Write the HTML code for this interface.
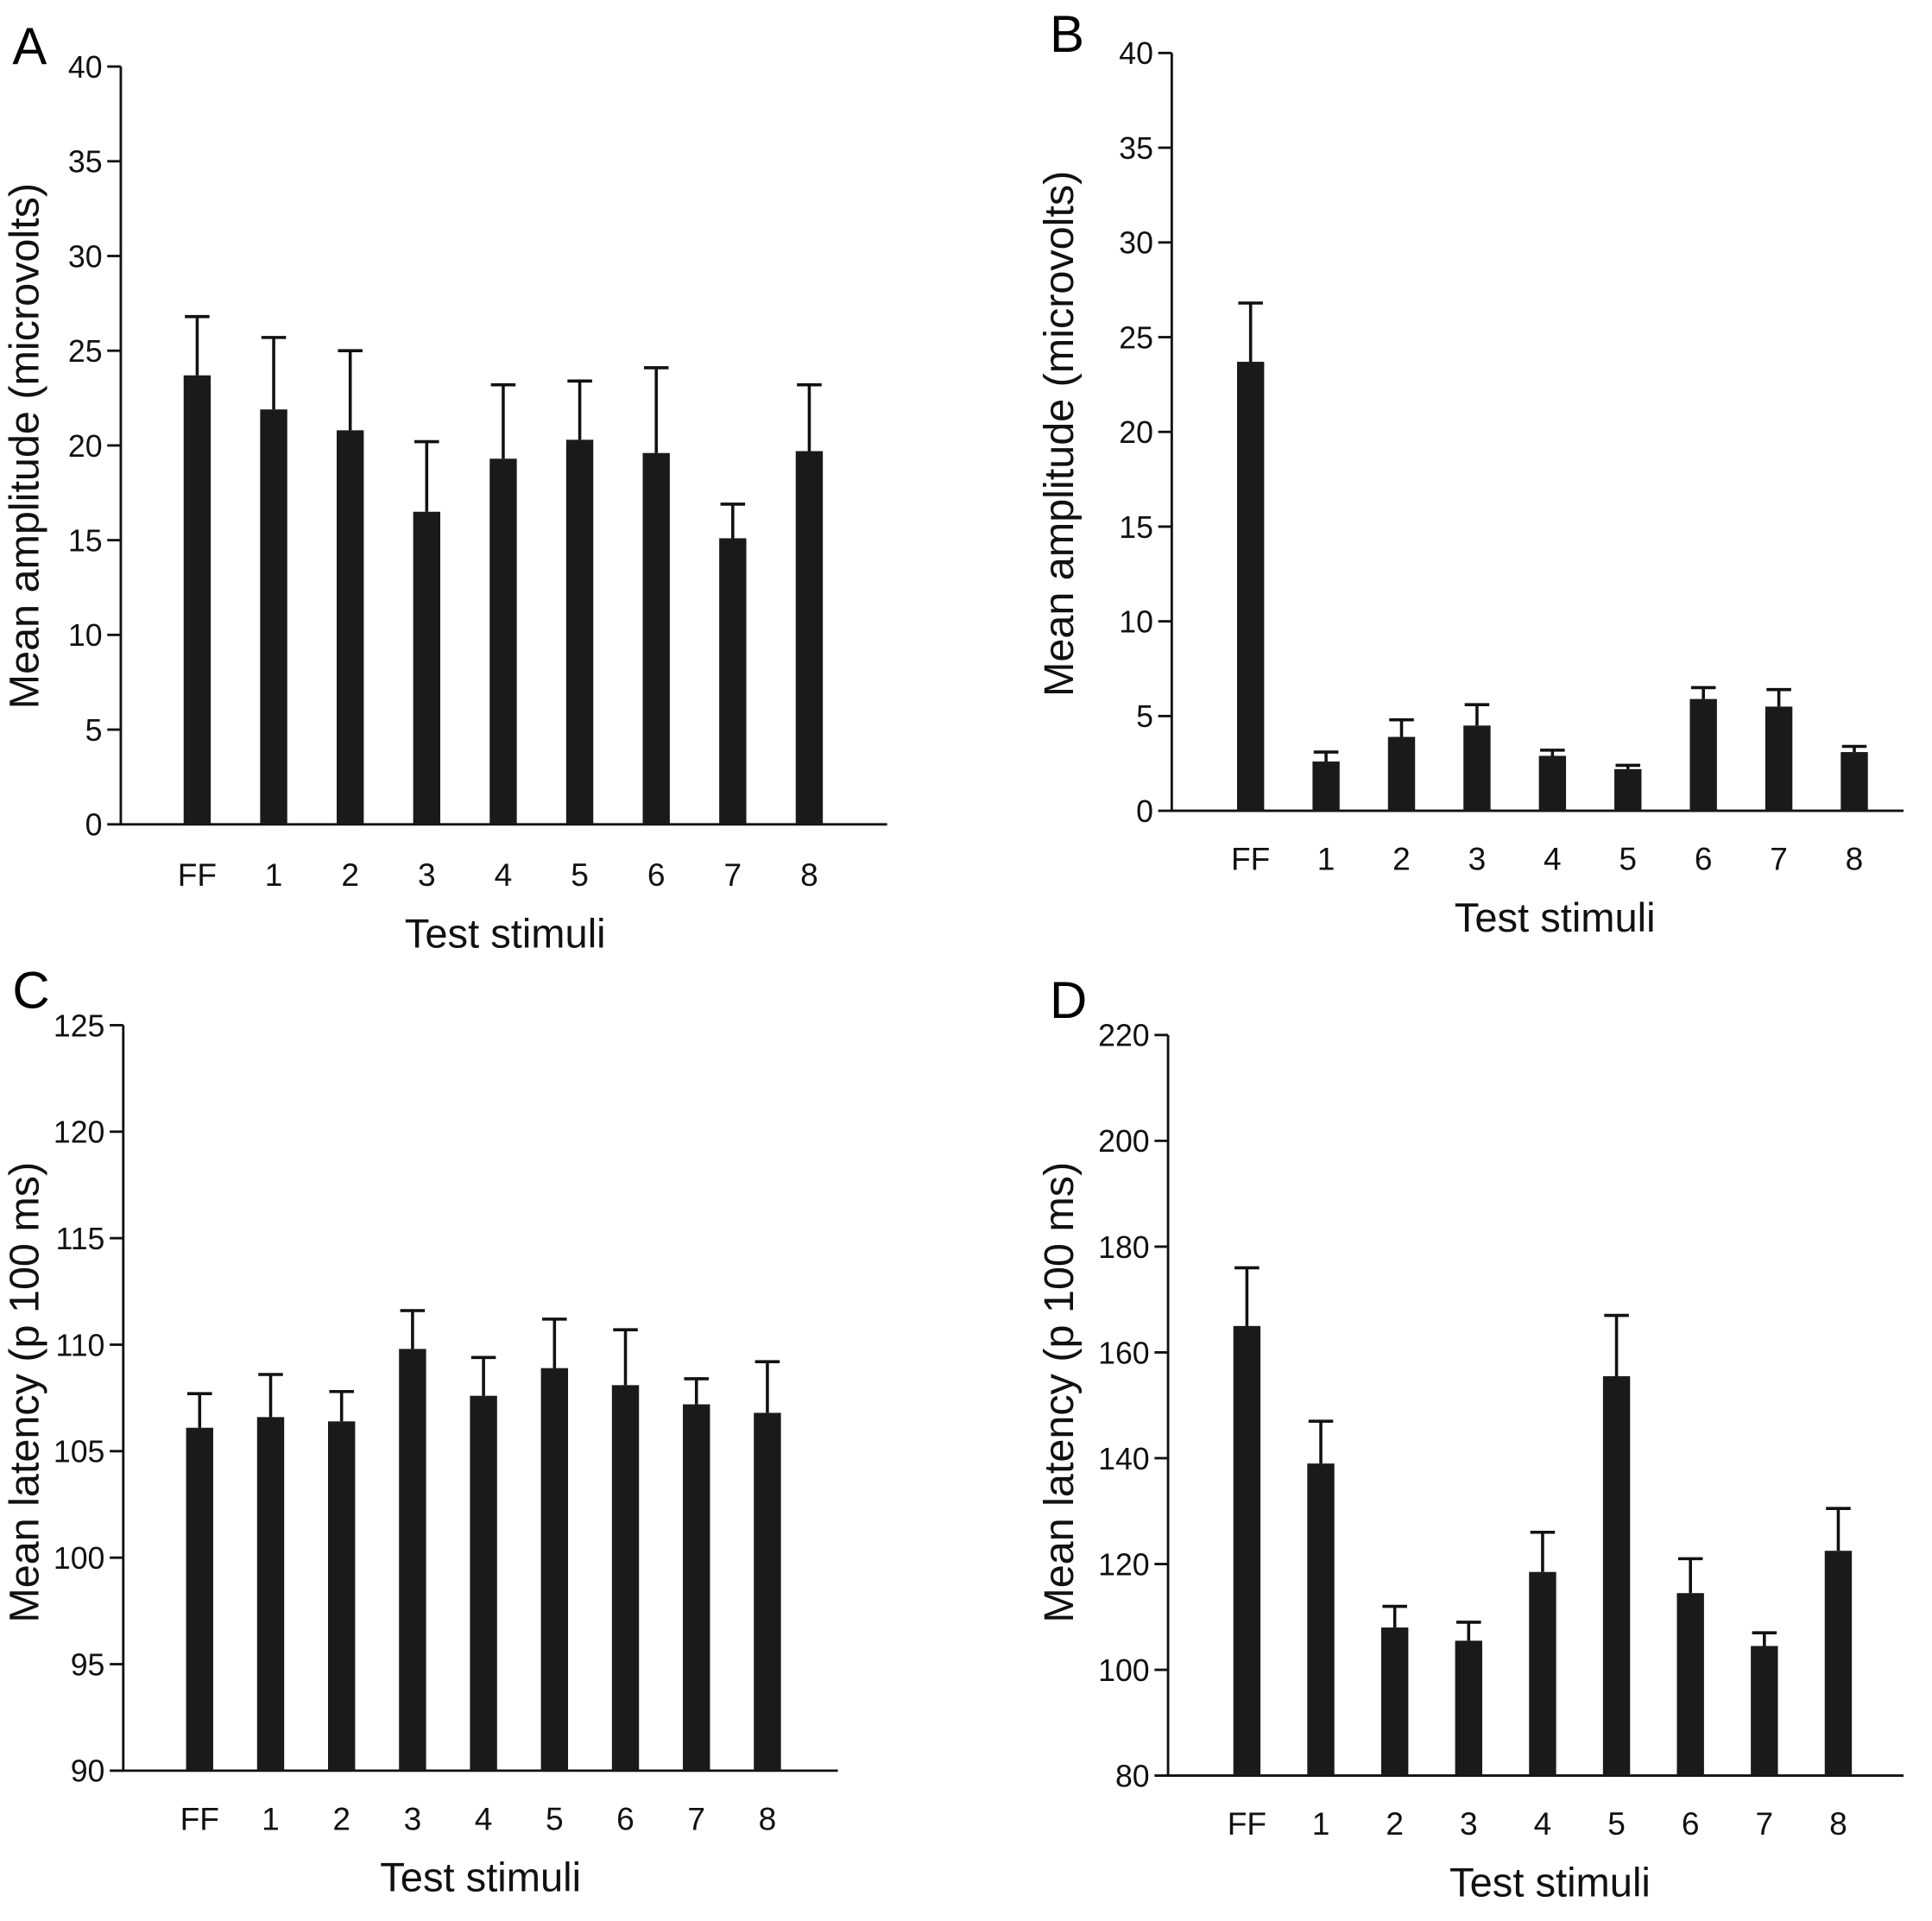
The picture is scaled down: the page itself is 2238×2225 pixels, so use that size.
<!DOCTYPE html>
<html><head><meta charset="utf-8"><style>html,body{margin:0;padding:0;background:#fff}svg{display:block}</style></head>
<body>
<svg id="fig" width="2238" height="2225" viewBox="0 0 1568 1559" xmlns="http://www.w3.org/2000/svg" font-family="Liberation Sans, sans-serif">
<text x="10" y="52" font-size="42">A</text>
<text x="852" y="42" font-size="42">B</text>
<text x="10" y="818" font-size="42">C</text>
<text x="852" y="826" font-size="42">D</text>
</svg>
<script>
const categories=["FF","1","2","3","4","5","6","7","8"];
const meanA=[23.7,21.9,20.8,16.5,19.3,20.3,19.6,15.1,19.7];
const errA=[26.8,25.7,25.0,20.2,23.2,23.4,24.1,16.9,23.2];
const ticksA=[0,5,10,15,20,25,30,35,40];
const meanB=[23.7,2.6,3.9,4.5,2.9,2.2,5.9,5.5,3.1];
const errB=[26.8,3.1,4.8,5.6,3.2,2.4,6.5,6.4,3.4];
const ticksB=[0,5,10,15,20,25,30,35,40];
const meanC=[106.1,106.6,106.4,109.8,107.6,108.9,108.1,107.2,106.8];
const errC=[107.7,108.6,107.8,111.6,109.4,111.2,110.7,108.4,109.2];
const ticksC=[90,95,100,105,110,115,120,125];
const meanD=[165,139,108,105.5,118.5,155.5,114.5,104.5,122.5];
const errD=[176,147,112,109,126,167,121,107,130.5];
const ticksD=[80,100,120,140,160,180,200,220];
const NS="http://www.w3.org/2000/svg";
const svg=document.getElementById('fig');
function mk(tag,attrs,parent){const e=document.createElementNS(NS,tag);for(const k in attrs)e.setAttribute(k,attrs[k]);(parent||svg).appendChild(e);return e;}
function panel(id,cfg,means,errs,ticks,ylabel){
 const g=mk('g',{});
 
 
 const y=v=>cfg.y0+(v-cfg.vmin)/(cfg.vmax-cfg.vmin)*(cfg.y1-cfg.y0);
 const x0=cfg.x0, x1=cfg.xr;
 const ax=mk('path',{d:`M${x0},${y(cfg.vmax)}V${cfg.y0}H${x1}`,stroke:'#111','stroke-width':2,fill:'none'},g);
 
 
 ticks.forEach(t=>{
  const tk=mk('line',{x1:x0-11,x2:x0,y1:y(t),y2:y(t),stroke:'#111','stroke-width':2},g);
  
  
  const tl=mk('text',{x:x0-15,y:y(t)+9,'font-size':25,'text-anchor':'end',fill:'#111'},g);
  
  
  tl.textContent=t;
 });
 categories.forEach((c,i)=>{
  const cx=cfg.cx0+i*cfg.step;
  const b=mk('rect',{x:cx-11,y:y(means[i]),width:22,height:cfg.y0-y(means[i]),fill:'#1a1a1a'},g);
  
  
  const e=mk('path',{d:`M${cx},${y(means[i])}V${y(errs[i])}M${cx-10},${y(errs[i])}H${cx+10}`,stroke:'#111','stroke-width':2.5,fill:'none'},g);
  
  
  const l=mk('text',{x:cx,y:cfg.y0+cfg.lab,'font-size':26,'text-anchor':'middle',fill:'#111'},g);
  
  
  l.textContent=c;
 });
 const xt=mk('text',{x:cfg.xt,y:cfg.y0+cfg.lab+50,'font-size':33,'text-anchor':'middle',fill:'#111'},g);
 
 
 xt.textContent='Test stimuli';
 const yt=mk('text',{x:0,y:0,'font-size':34,'text-anchor':'middle',fill:'#111',transform:`translate(${cfg.ytx},${cfg.yty}) rotate(-90)`},g);
 
 
 yt.textContent=ylabel;
}
panel('a',{x0:98,xr:720,y0:669,y1:54,vmin:0,vmax:40,cx0:160,step:62.1,lab:50,xt:410,ytx:31,yty:362},meanA,errA,ticksA,'Mean amplitude (microvolts)');
panel('b',{x0:951,xr:1545,y0:658,y1:43,vmin:0,vmax:40,cx0:1015,step:61.25,lab:48,xt:1262,ytx:871,yty:352},meanB,errB,ticksB,'Mean amplitude (microvolts)');
panel('c',{x0:100,xr:680,y0:1437,y1:832,vmin:90,vmax:125,cx0:162,step:57.6,lab:48,xt:390,ytx:31,yty:1130},meanC,errC,ticksC,'Mean latency (p 100 ms)');
panel('d',{x0:948,xr:1545,y0:1441,y1:840,vmin:80,vmax:220,cx0:1012,step:60,lab:48,xt:1258,ytx:871,yty:1130},meanD,errD,ticksD,'Mean latency (p 100 ms)');
</script>
</body></html>
